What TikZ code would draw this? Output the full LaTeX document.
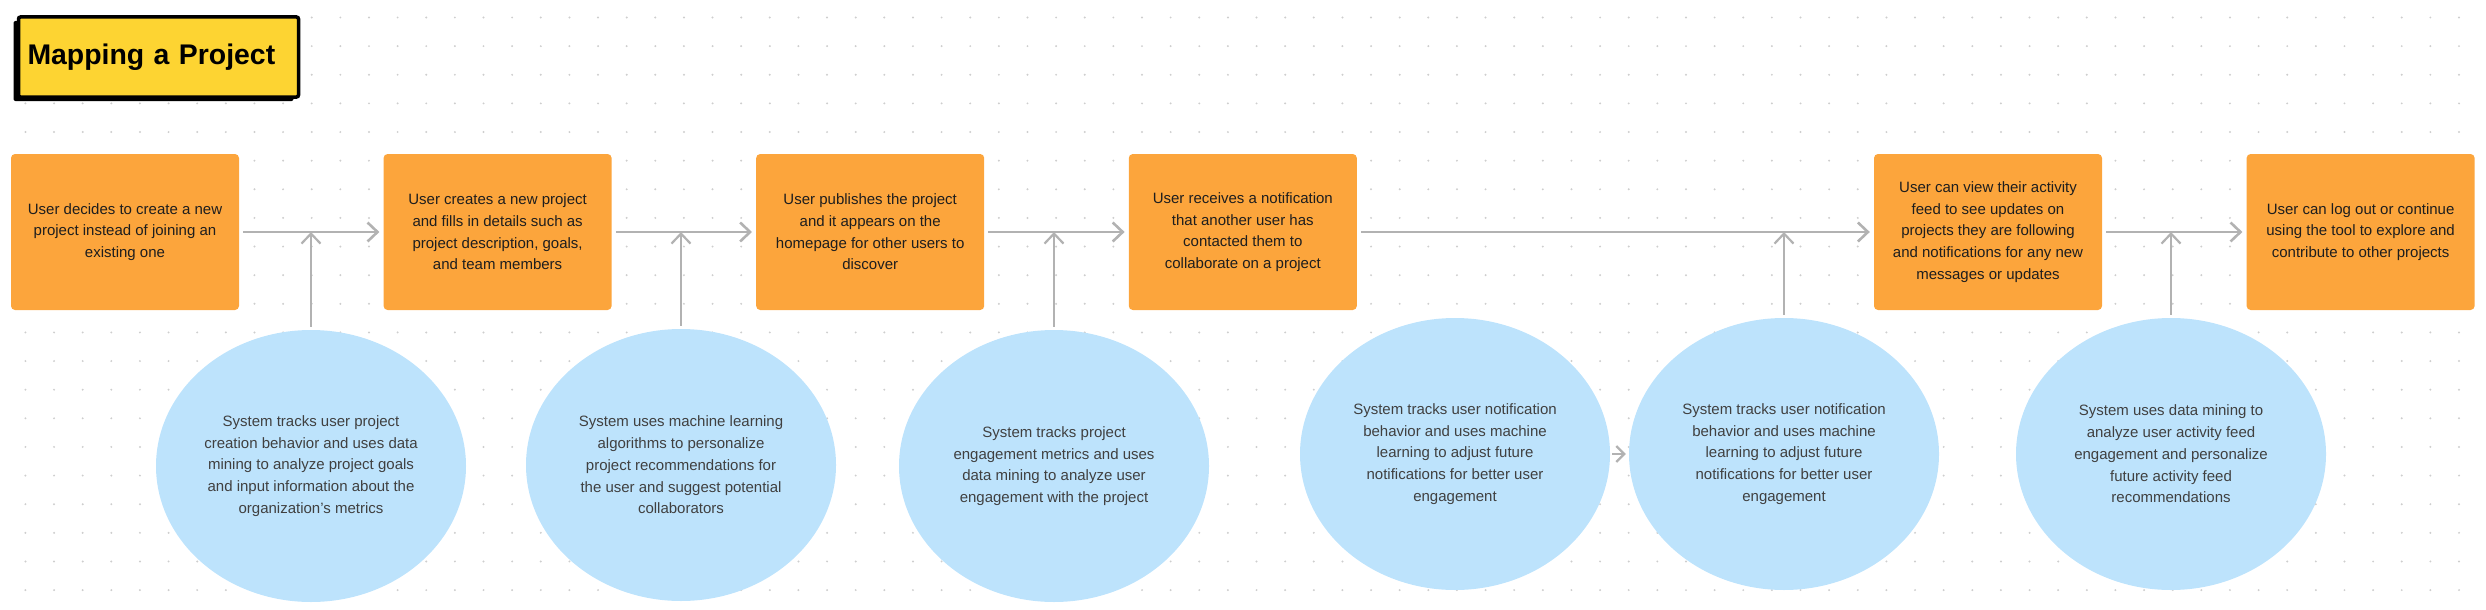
\documentclass[tikz,border=0pt]{standalone}
\usepackage{fontspec}
\setmainfont{Liberation Sans}
\usepackage{xcolor}
\usepackage{tikz}
\usetikzlibrary{arrows.meta,shapes.geometric,shadows}

\definecolor{stickyorange}{RGB}{252,165,60}
\definecolor{noteblue}{RGB}{189,227,252}
\definecolor{titleyellow}{RGB}{253,212,50}
\definecolor{flowgray}{RGB}{178,178,178}
\definecolor{dotgray}{RGB}{206,206,206}
\definecolor{inkdark}{RGB}{30,30,30}

\begin{document}
\begin{tikzpicture}[x=1pt,y=-1pt,>={Straight Barb[length=10pt,width=19pt]},
            node distance=372.6pt]
        \tikzstyle{title}=[rectangle,rounded corners=2pt,fill=titleyellow,draw=black,line width=3.5pt,
            text width=262pt,inner xsep=9pt,minimum height=80pt,align=left,
            font=\fontsize{28.4}{34}\selectfont\bfseries,
            drop shadow={shadow xshift=-5pt,shadow yshift=-4pt,opacity=1,fill=black}]
        \tikzstyle{task}=[rectangle,rounded corners=4pt,fill=stickyorange,text=inkdark,
            minimum width=228pt,minimum height=156pt,inner sep=0pt,align=center,
            font=\fontsize{15}{21.7}\selectfont]
        \tikzstyle{sysnote}=[ellipse,fill=noteblue,text=inkdark!85,
            minimum width=310pt,minimum height=272pt,inner sep=0pt,align=center,
            font=\fontsize{15}{21.7}\selectfont]
        \tikzstyle{flow}=[->,draw=flowgray,line width=2.6pt,shorten >=4pt,shorten <=4pt]
        \tikzstyle{feed}=[flow,line width=2.2pt,shorten >=0pt,shorten <=3pt]

        \useasboundingbox (0,0) rectangle (2486,610);

        % dotted board
        \foreach \i in {1,...,86}
            \foreach \j in {0,...,20}
                \fill[dotgray] (28.63*\i-3.2,17.5+28.63*\j) circle (1.1);

        \node[title] (title) at (158.5,57) {Mapping a Project};

        % user steps
        \node[task] (b1) at (125,232) {User decides to create a new\\project instead of joining an\\existing one};
        \node[task] (b2) [right of=b1] {User creates a new project\\and fills in details such as\\project description, goals,\\and team members};
        \node[task] (b3) [right of=b2] {User publishes the project\\and it appears on the\\homepage for other users to\\discover};
        \node[task] (b4) [right of=b3] {User receives a notification\\that another user has\\contacted them to\\collaborate on a project};
        \node[task] (b5) [right of=b4,node distance=745.2pt] {User can view their activity\\feed to see updates on\\projects they are following\\and notifications for any new\\messages or updates};
        \node[task] (b6) [right of=b5] {User can log out or continue\\using the tool to explore and\\contribute to other projects};

        % system side
        \node[sysnote] (e1) at (311,466) {System tracks user project\\creation behavior and uses data\\mining to analyze project goals\\and input information about the\\organization’s metrics};
        \node[sysnote] (e2) at (681,465) {System uses machine learning\\algorithms to personalize\\project recommendations for\\the user and suggest potential\\collaborators};
        \node[sysnote] (e3) at (1054,466) {System tracks project\\engagement metrics and uses\\data mining to analyze user\\engagement with the project};
        \node[sysnote] (e4) at (1455,454) {System tracks user notification\\behavior and uses machine\\learning to adjust future\\notifications for better user\\engagement};
        \node[sysnote] (e5) at (1784,454) {System tracks user notification\\behavior and uses machine\\learning to adjust future\\notifications for better user\\engagement};
        \node[sysnote] (e6) at (2171,454) {System uses data mining to\\analyze user activity feed\\engagement and personalize\\future activity feed\\recommendations};

        \path (b1) edge[flow] (b2)
              (b2) edge[flow] (b3)
              (b3) edge[flow] (b4)
              (b4) edge[flow] (b5)
              (b5) edge[flow] (b6);

        \path (e1) edge[feed] (e1 |- b1)
              (e2) edge[feed] (e2 |- b2)
              (e3) edge[feed] (e3 |- b3)
              (e5) edge[feed] (e5 |- b5)
              (e6) edge[feed] (e6 |- b6);
        \path (e4) edge[flow,line width=2.2pt,>={Straight Barb[length=8pt,width=16pt]},
            shorten >=3pt,shorten <=2pt] (e5);
    \end{tikzpicture}
\end{document}
